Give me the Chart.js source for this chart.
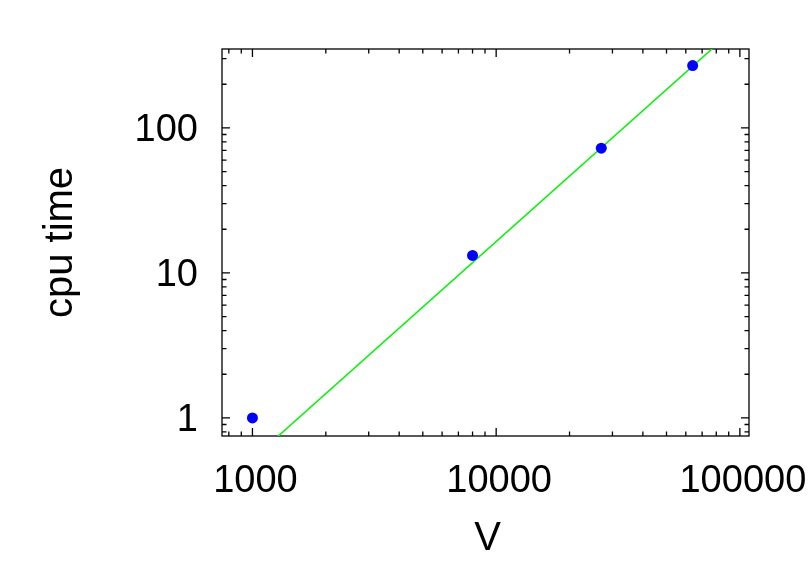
<!DOCTYPE html>
<html>
<head>
<meta charset="utf-8">
<script src="https://cdn.jsdelivr.net/npm/chart.js@4/dist/chart.umd.min.js"></script>
<style>
    body { margin: 0; background: #fff; }
    #wrap { width: 810px; height: 567px; position: relative; }
</style>
</head>
<body>
<div id="wrap"><canvas id="chartCpu"></canvas></div>
<script>
// Datos
const volumenes = [1000, 8000, 27000, 64000];
const tiemposCpu = [1, 13.2, 72.5, 269];

// Recta de ajuste (extremos)
const ajusteV = [1000, 110000];
const ajusteCpu = [0.52, 600];

// Etiquetas de los ejes
const etiquetasX = [1000, 10000, 100000];
const etiquetasY = [1, 10, 100];
const tituloX = 'V';
const tituloY = 'cpu time';

const fuente = '"Liberation Sans", Arial, Helvetica, sans-serif';

// Marco estilo gnuplot: borde, marcas hacia dentro en los cuatro lados y textos
const marcoGnuplot = {
    id: 'marcoGnuplot',
    beforeDatasetsDraw(chart) {
        const ctx = chart.ctx;
        const area = chart.chartArea;
        const sx = chart.scales.x;
        const sy = chart.scales.y;

        ctx.save();
        ctx.strokeStyle = '#000';
        ctx.lineWidth = 1.3;
        ctx.strokeRect(area.left, area.top, area.right - area.left, area.bottom - area.top);

        // marcas del eje x (abajo y arriba)
        for (let d = Math.floor(Math.log10(sx.min)); d <= Math.ceil(Math.log10(sx.max)); d++) {
            for (let m = 1; m <= 9; m++) {
                const v = m * Math.pow(10, d);
                if (v < sx.min || v > sx.max) continue;
                const px = sx.getPixelForValue(v);
                const largo = m === 1 ? 8 : 4.5;
                ctx.beginPath();
                ctx.moveTo(px, area.bottom);
                ctx.lineTo(px, area.bottom - largo);
                ctx.moveTo(px, area.top);
                ctx.lineTo(px, area.top + largo);
                ctx.stroke();
            }
        }
        // marcas del eje y (izquierda y derecha)
        for (let d = Math.floor(Math.log10(sy.min)); d <= Math.ceil(Math.log10(sy.max)); d++) {
            for (let m = 1; m <= 9; m++) {
                const v = m * Math.pow(10, d);
                if (v < sy.min || v > sy.max) continue;
                const py = sy.getPixelForValue(v);
                const largo = m === 1 ? 8 : 4.5;
                ctx.beginPath();
                ctx.moveTo(area.left, py);
                ctx.lineTo(area.left + largo, py);
                ctx.moveTo(area.right, py);
                ctx.lineTo(area.right - largo, py);
                ctx.stroke();
            }
        }

        // etiquetas de las marcas
        ctx.fillStyle = '#000';
        ctx.font = '38px ' + fuente;
        ctx.textBaseline = 'alphabetic';
        ctx.textAlign = 'center';
        etiquetasX.forEach(v => {
            ctx.fillText(String(v), sx.getPixelForValue(v) + 3, area.bottom + 56);
        });
        ctx.textAlign = 'right';
        etiquetasY.forEach(v => {
            ctx.fillText(String(v), area.left - 24, sy.getPixelForValue(v) + 13);
        });

        // títulos de los ejes
        ctx.font = '40px ' + fuente;
        ctx.textAlign = 'center';
        ctx.fillText(tituloX, (area.left + area.right) / 2 + 2, area.bottom + 114);
        ctx.translate(72, (area.top + area.bottom) / 2);
        ctx.rotate(-Math.PI / 2);
        ctx.fillText(tituloY, 0, 0);
        ctx.restore();
    }
};

function crearGraficaCpu() {
    const ctx = document.getElementById('chartCpu').getContext('2d');

    new Chart(ctx, {
        type: 'scatter',
        data: {
            datasets: [
                {
                    label: 'ajuste',
                    data: ajusteV.map((v, i) => ({ x: v, y: ajusteCpu[i] })),
                    showLine: true,
                    borderColor: '#14ee14',
                    borderWidth: 1.6,
                    pointRadius: 0,
                    clip: 0,
                    order: 2
                },
                {
                    label: 'cpu time',
                    data: volumenes.map((v, i) => ({ x: v, y: tiemposCpu[i] })),
                    showLine: false,
                    backgroundColor: '#0000ff',
                    borderColor: '#0000ff',
                    pointRadius: 5.5,
                    pointBorderWidth: 0,
                    clip: false,
                    order: 1
                }
            ]
        },
        options: {
            responsive: true,
            maintainAspectRatio: false,
            animation: false,
            layout: {
                padding: { left: 222, right: 61, top: 49, bottom: 131 }
            },
            plugins: {
                legend: { display: false },
                tooltip: { enabled: false }
            },
            scales: {
                x: { type: 'logarithmic', min: 750, max: 109000, display: false },
                y: { type: 'logarithmic', min: 0.75, max: 350, display: false }
            }
        },
        plugins: [marcoGnuplot]
    });
}

document.addEventListener('DOMContentLoaded', crearGraficaCpu);
</script>
</body>
</html>
